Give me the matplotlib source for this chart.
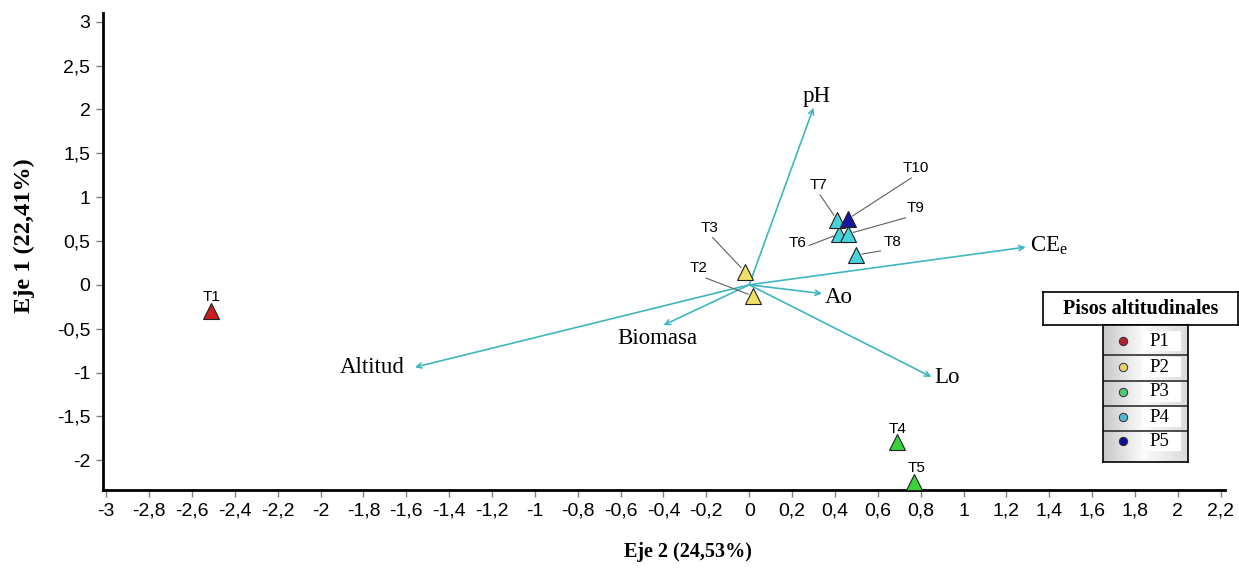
import matplotlib
matplotlib.use('Agg')
import matplotlib.pyplot as plt
import numpy as np
from matplotlib.ticker import FuncFormatter, MultipleLocator

# sitios: coordenadas en Eje 2 (x) y Eje 1 (y)
sitios = ['T1', 'T2', 'T3', 'T4', 'T5', 'T6', 'T7', 'T8', 'T9', 'T10']
eje2 = [-2.51, 0.02, -0.02, 0.69, 0.77, 0.42, 0.41, 0.50, 0.46, 0.46]
eje1 = [-0.30, -0.13, 0.15, -1.79, -2.25, 0.58, 0.74, 0.34, 0.58, 0.75]
piso_sitio = ['P1', 'P2', 'P2', 'P3', 'P3', 'P4', 'P4', 'P4', 'P4', 'P5']

# vectores de las variables
variables = ['pH', r'CE$_{\mathregular{e}}$', 'Ao', 'Lo', 'Biomasa', 'Altitud']
var_x = [0.30, 1.29, 0.34, 0.85, -0.40, -1.56]
var_y = [2.02, 0.43, -0.10, -1.05, -0.46, -0.94]

pisos = ['P1', 'P2', 'P3', 'P4', 'P5']

col_tri = {'P1': '#C81E1E', 'P2': '#F0E066', 'P3': '#3AD23A', 'P4': '#48D2DA', 'P5': '#16169E'}
col_leg = {'P1': '#B0202E', 'P2': '#E6CF6E', 'P3': '#52C87A', 'P4': '#52B8D0', 'P5': '#10108E'}
cyan = '#3FB6C0'

# offsets (pixeles) de las etiquetas de los sitios y si llevan linea guia
lab_off = {'T1': (0, 14, False), 'T2': (-55, 28, True), 'T3': (-35, 44, True),
           'T4': (0, 13, False), 'T5': (2, 14, False), 'T6': (-42, -9, True),
           'T7': (-19, 35, True), 'T8': (36, 13, True), 'T9': (68, 26, True),
           'T10': (68, 51, True)}
# offsets de las etiquetas de las variables
var_off = [((3, 11), 'center'), ((4, 2), 'left'), ((3, -4), 'left'),
           ((3, -1), 'left'), ((-6, -13), 'center'), ((-10, 0), 'right')]

fig = plt.figure(figsize=(12.39, 5.73), dpi=100)
W, H = 1239, 573
ax = fig.add_axes([103 / W, 1 - 490 / H, (1225 - 103) / W, (490 - 13) / H])

for vx, vy in zip(var_x, var_y):
    ax.annotate('', xy=(vx, vy), xytext=(0, 0),
                arrowprops=dict(arrowstyle='->', color=cyan, lw=1.2,
                                shrinkA=0, shrinkB=0, mutation_scale=9))
for name, vx, vy, (off, ha) in zip(variables, var_x, var_y, var_off):
    ax.annotate(name, xy=(vx, vy), xytext=off, textcoords='offset pixels',
                ha=ha, va='center', fontsize=16.5, family='Liberation Serif')

for s, x, y, p in zip(sitios, eje2, eje1, piso_sitio):
    ax.plot(x, y, marker='^', ms=12, mfc=col_tri[p], mec='#202020', mew=0.8,
            ls='none', zorder=5)
    dx, dy, guide = lab_off[s]
    if guide:
        ax.annotate(s, xy=(x, y), xytext=(dx, dy), textcoords='offset pixels',
                    ha='center', va='center', fontsize=11, family='Liberation Sans',
                    arrowprops=dict(arrowstyle='-', color='#606060', lw=0.8,
                                    shrinkA=0, shrinkB=4, relpos=(0.5, 0)))
    else:
        ax.annotate(s, xy=(x, y), xytext=(dx, dy), textcoords='offset pixels',
                    ha='center', va='center', fontsize=11, family='Liberation Sans',
                    zorder=6)

ax.set_xlim(-3.015, 2.22)
ax.set_ylim(-2.34, 3.1)
ax.xaxis.set_major_locator(MultipleLocator(0.2))
ax.yaxis.set_major_locator(MultipleLocator(0.5))


def fmt(v, pos):
    v = round(v, 1)
    if v == 0:
        return '0'
    return f'{v:g}'.replace('.', ',')


ax.xaxis.set_major_formatter(FuncFormatter(fmt))
ax.yaxis.set_major_formatter(FuncFormatter(fmt))
for lab in ax.get_xticklabels() + ax.get_yticklabels():
    lab.set_family('Liberation Sans')
ax.tick_params(direction='out', length=5, width=1, color='#808080',
               labelsize=14, pad=4)
for sp in ['top', 'right']:
    ax.spines[sp].set_visible(False)
for sp in ['left', 'bottom']:
    ax.spines[sp].set_linewidth(2)

fig.text(688 / W, 1 - 552 / H, 'Eje 2 (24,53%)', ha='center', va='center',
         fontsize=14.5, fontweight='bold', family='Liberation Serif')
fig.text(24 / W, 1 - 236 / H, 'Eje 1 (22,41%)', ha='center', va='center',
         rotation=90, fontsize=17.5, fontweight='bold', family='Liberation Serif')

# leyenda: caja del titulo
tax = fig.add_axes([1043 / W, 1 - 325 / H, (1238 - 1043) / W, (325 - 292) / H])
tax.set_xticks([])
tax.set_yticks([])
tax.text(0.5, 0.5, 'Pisos altitudinales', ha='center', va='center',
         fontsize=14.5, fontweight='bold', family='Liberation Serif',
         transform=tax.transAxes)
for sp in tax.spines.values():
    sp.set_linewidth(1.2)

# leyenda: filas
lax = fig.add_axes([1103 / W, 1 - 462 / H, (1188 - 1103) / W, (462 - 325) / H])
lax.set_xlim(0, 85)
lax.set_ylim(137, 0)
grad = np.concatenate([np.linspace(0.78, 0.98, 40), np.linspace(0.98, 0.86, 45)])
lax.imshow(np.tile(grad, (2, 1)), cmap='gray', vmin=0, vmax=1, aspect='auto',
           extent=(0, 85, 137, 0))
row_y = [16, 42, 67, 92, 116]
for sep in [30, 56, 81, 106]:
    lax.axhline(sep, color='#303030', lw=1.2)
for p, ry in zip(pisos, row_y):
    lax.plot(20, ry, marker='o', ms=6, mfc=col_leg[p], mec='#303030', mew=0.7)
    lax.add_patch(plt.Rectangle((40, ry - 10), 38, 20, fc='white', ec='none'))
    lax.text(46, ry, p, ha='left', va='center', fontsize=13.5,
             family='Liberation Serif')
lax.set_xticks([])
lax.set_yticks([])
for sp in lax.spines.values():
    sp.set_linewidth(1.2)

fig.savefig('out.png', dpi=100)
